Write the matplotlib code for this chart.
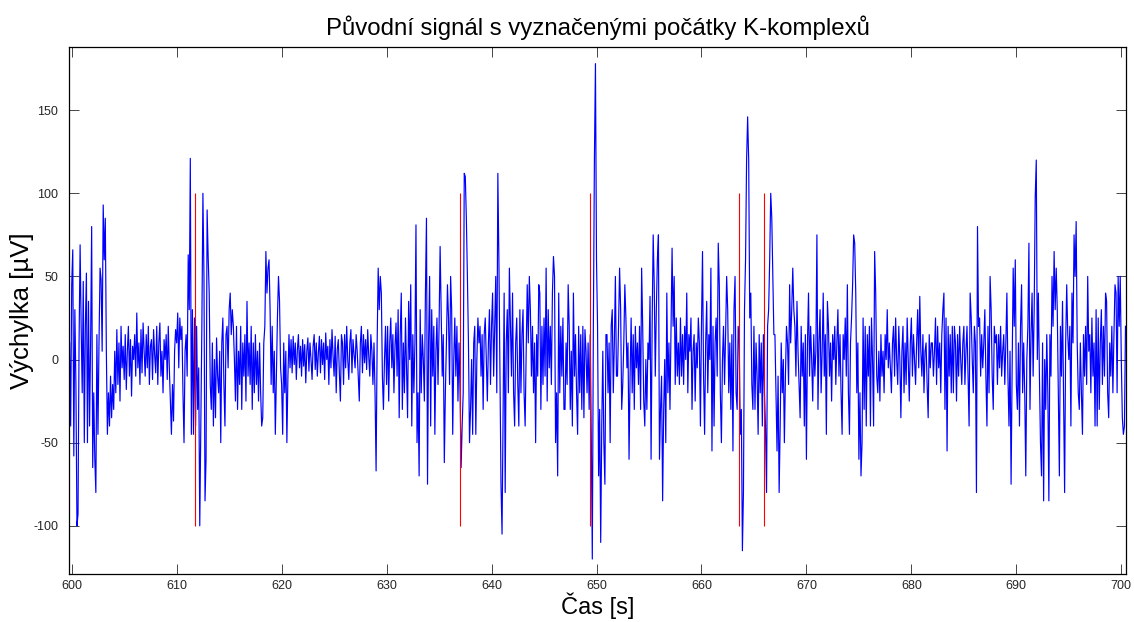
import numpy as np
import matplotlib
matplotlib.use("Agg")
import matplotlib.pyplot as plt

plt.rcParams['font.family'] = ['Liberation Sans', 'DejaVu Sans']
plt.rcParams['axes.unicode_minus'] = False

t_start = 599.8
dt = 0.1

sig_pre = [10, -40]
sig_600s = [
    45, 66, -58, 30, -15, -100, -93, 10, 69, 20,
    -20, 47, -50, 20, 52, -50, 35, -40, 10, 80,
    -65, -20, -60, -80, 15, -45, 10, 55, 48, 5,
    93, 60, 85, 5, -45, -20, -40, -10, -35, -15,
    -30, 5, -20, 18, -15, 10, -25, 20, -5, 8,
    -12, 15, -18, 5, 20, -10, 12, -22, 8, 0,
    15, -10, 28, -5, 10, -15, 18, -8, 22, 5,
    -10, 15, -5, 20, -15, 8, 12, -12, 18, 3,
    -8, 20, -15, 10, 22, -10, 5, -20, 12, 0,
    15, -12, 20, -5, -25, -45, -15, -37, 5, 18,
]
sig_610s = [
    10, 28, -5, 25, 12, 20, -20, -50, 5, 15,
    -10, 63, 30, 121, -45, 30, -45, 25, -40, 20,
    -30, -5, -100, -40, 20, 100, 50, -85, -60, 90,
    62, 40, -15, -30, 10, -40, 0, -35, 13, -10,
    -20, 5, -50, 10, 25, -15, -40, 15, 20, -5,
    30, 40, 15, 30, 20, 0, -25, 20, -30, 5,
    -15, 20, -30, 10, -10, 15, -25, 35, -10, 10,
    -15, 20, -30, 10, -20, 15, -15, 5, -25, 10,
    -20, -40, -35, 10, 20, 65, 40, 55, 60, 30,
    -15, 20, -20, 5, -45, -10, 25, 50, 35, -5,
]
sig_620s = [
    -15, -45, 10, -20, 5, -50, -10, 15, -5, 12,
    -8, 14, -3, 10, -12, 6, 15, -5, 8, -10,
    12, -4, 9, -14, 5, 13, -7, 10, 0, -12,
    8, 15, -6, 10, -10, 4, 14, -8, 12, -3,
    10, -12, 16, 0, 8, -15, 12, -5, 18, 2,
    -10, 14, -20, 6, 12, -8, -25, 15, 10, -15,
    15, -5, 20, 0, -12, 10, 18, -8, 12, 3,
    -5, 15, 5, -10, -25, 10, 20, -8, 15, -2,
    12, -6, 18, 2, -10, 15, 5, -15, 10, -20,
    -67, 10, 55, 30, 50, 40, -10, -30, 0, 20,
]
sig_630s = [
    -15, 20, -25, 10, 25, -5, 15, -20, 8, 22,
    -10, 30, -35, 15, 40, -30, 10, -20, 25, -5,
    -35, 35, 0, 45, -40, 15, -20, 10, 81, -50,
    -20, -70, 30, -20, 15, 0, -25, 40, 85, -75,
    10, 50, -40, 30, -10, 20, -45, 5, 25, -15,
    20, 68, 30, -10, 15, -62, -20, 10, 45, 25,
    -15, 50, 30, -45, 0, 25, -10, 20, -25, 10,
    -20, -65, -40, -20, 112, 110, 85, 50, 10, -50,
    -30, 0, -45, 10, 20, -45, 0, 25, 10, 20,
    -10, 15, -30, 15, 25, 0, -25, 10, 30, -15,
]
sig_640s = [
    20, 40, -10, 20, 50, -20, 112, 60, -10, -75,
    -105, -30, 40, -80, 10, 30, -20, 55, 20, -10,
    40, -20, -40, 10, 25, -15, -40, 30, -20, 15,
    30, -20, -40, 5, 45, 10, 50, 30, -10, 20,
    -20, 10, -50, 15, -10, 45, 40, -30, 20, -15,
    25, -10, 55, -25, 30, -5, 20, -15, 40, 62,
    50, -50, -20, -70, 40, -20, 20, -10, 25, -30,
    -30, 10, -15, 45, 20, -30, 5, -40, 40, -10,
    15, -20, -45, 20, -20, 15, -30, 20, -35, 18,
    5, -20, 10, -30, 15, -45, -120, 20, 120, 178,
]
sig_650s = [
    60, 20, -70, -30, -110, -40, 5, -50, -75, 15,
    15, -20, 10, -50, 20, 30, -20, 10, 50, -10,
    -10, 20, 55, 30, -30, -15, 10, 45, 25, -5,
    10, -60, -10, 25, -20, 15, -30, 20, -5, 10,
    -15, 20, -30, 55, 20, -25, -40, 0, -30, 10,
    0, 38, -60, 20, 75, 45, -10, 30, 60, 75,
    -60, -30, -10, -85, -30, 0, -50, 40, -20, 10,
    -30, 20, 67, 20, 50, -15, 25, -10, 10, -15,
    25, -10, 15, -15, 20, 0, 40, -20, 15, 5,
    25, -30, 5, 15, -25, 10, -5, 25, 10, -40,
]
sig_660s = [
    20, 65, -10, -45, 10, 35, -20, 15, 0, 55,
    -55, 20, -40, 10, 25, -10, 70, 45, -20, -50,
    0, 20, -15, 15, 50, 30, -20, 10, -30, 15,
    -55, 30, 50, -20, -30, 20, 10, -45, -30, -115,
    -80, 30, 60, 120, 146, 120, 25, 40, -15, -30,
    20, -30, 10, -10, -45, 15, -20, 10, -40, 15,
    -20, -40, -80, 20, 30, 60, 100, 85, 50, 15,
    15, -20, -55, -10, -80, -40, 10, -20, 0, -50,
    -10, 20, 10, -15, 45, 10, 30, 55, 30, 20,
    -10, 35, 5, -15, -35, 20, -10, 10, -40, 15,
]
sig_670s = [
    -60, 10, 40, -10, 20, 0, -25, 15, -10, 5,
    75, -30, 10, 30, -20, 5, 40, -10, 15, -45,
    35, 20, -10, 10, -25, 15, 0, 20, -15, 10,
    30, -10, 15, -20, -45, 15, 0, 25, -10, 45,
    -20, -45, 10, 25, 45, 75, 70, 40, -20, 10,
    -60, -20, -70, -50, 25, -30, 20, -40, 15, -10,
    20, -40, 25, 0, -40, 65, 40, -10, -20, 5,
    -25, 15, -10, 5, -20, 15, 0, 30, -5, 10,
    -5, -20, 10, 20, -10, 25, 0, -15, 20, 0,
    -35, 5, 20, -20, 10, -15, 25, 0, -25, 10,
]
sig_680s = [
    25, -10, 15, 0, -15, 10, 30, -5, 38, 5,
    -10, 15, -20, 5, 10, -15, -35, 15, -5, 10,
    10, -10, 5, 25, -15, 20, -5, 10, -20, 15,
    30, 40, -30, 25, -55, 20, -10, 15, -20, 20,
    -20, 20, 10, -25, 15, -10, 20, 0, -15, 10,
    20, -15, 5, 20, -10, -40, 40, 25, 0, -20,
    20, 10, -80, 80, 20, 25, -10, 15, -5, 10,
    30, -10, -40, 20, -20, 50, 30, -10, -30, 20,
    10, 15, -15, 15, -5, 20, -10, 5, 15, -15,
    10, 40, -10, -40, 5, -75, -5, 55, 20, 60,
]
sig_690s = [
    -15, -30, 10, -40, 20, 45, -20, 10, -20, -70,
    0, 20, 70, -30, 15, 40, -10, 30, 98, 120,
    0, 40, -10, -50, -70, 10, -85, 0, -30, 15,
    -20, -85, 15, -10, 50, 20, 65, 30, 55, 30,
    -20, -70, 20, -10, 35, -20, -80, 10, 45, 15,
    0, 20, -40, 40, 10, 75, 50, 83, 10, -20,
    -30, 10, -20, -45, 15, -10, 20, -15, 50, 5,
    15, -20, 25, -10, 10, -40, 30, -40, 25, -30,
    10, 30, -15, 20, -10, 40, 35, -20, -35, 10,
    -10, 20, -20, 15, 45, 40, -20, 50, 20, 50,
]
sig_700 = [0, -35, -45, -40, 20]

# starts of K-complexes [s]
k_onsets = [611.75, 637.0, 649.35, 663.55, 665.93]
marker_lo, marker_hi = -100, 100

signal = np.array(sig_pre + sig_600s + sig_610s + sig_620s + sig_630s + sig_640s
                  + sig_650s + sig_660s + sig_670s + sig_680s + sig_690s + sig_700, dtype=float)
t = t_start + dt * np.arange(len(signal))

fig = plt.figure(figsize=(11.34, 6.22), dpi=100)
ax = fig.add_axes([69.3 / 1134, 1 - 574 / 622, (1125.7 - 69.3) / 1134, (574 - 47) / 622])

ax.plot(t, signal, color=(0, 0, 1), linewidth=0.85)
ax.vlines(k_onsets, marker_lo, marker_hi, colors=(1, 0, 0), linewidth=0.8)

ax.set_xlim(599.77, 700.42)
ax.set_ylim(-129, 188)
ax.set_xticks(np.arange(600, 701, 10))
ax.set_yticks([-100, -50, 0, 50, 100, 150])

ax.tick_params(direction='in', top=True, right=True, length=7.5, width=0.6,
               labelsize=9, colors='#262626')
ax.tick_params(axis='x', pad=4)
ax.tick_params(axis='y', pad=8)
for sp in ax.spines.values():
    sp.set_linewidth(0.9)

ax.set_xlabel('Čas [s]', fontsize=17)
ax.set_ylabel('Výchylka [µV]', fontsize=18.5)
ax.xaxis.set_label_coords(0.5, -0.036)
ax.yaxis.set_label_coords(-0.033, 0.5)
fig.text(597.5 / 1134, 1 - 28 / 622, 'Původní signál s vyznačenými počátky K-komplexů',
         ha='center', va='center', fontsize=17.3)

fig.savefig('out.png', dpi=100)
